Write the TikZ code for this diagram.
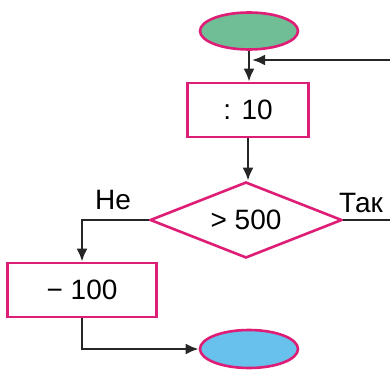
\documentclass[tikz,border=0pt]{standalone}
\usepackage{fontspec}
\setmainfont{Liberation Sans}
\usetikzlibrary{shapes.geometric,arrows.meta}
\definecolor{rim}{RGB}{222,30,118}
\definecolor{startfill}{RGB}{112,190,150}
\definecolor{stopfill}{RGB}{104,192,236}
\definecolor{wire}{RGB}{38,38,38}
\begin{document}
\begin{tikzpicture}[x=1pt, y=1pt, >={Latex[length=13pt,width=11pt]}]
	\tikzset{
		every node/.style={font=\fontsize{28}{32}\selectfont},
		oval/.style={ellipse, draw=rim, line width=2.6pt, minimum width=98pt, minimum height=37pt, inner sep=0pt},
		opbox/.style={rectangle, draw=rim, line width=2.6pt, minimum height=54pt, inner sep=0pt},
		testbox/.style={diamond, aspect=2.5, draw=rim, line width=2.6pt, minimum width=192pt, minimum height=76pt, inner sep=0pt},
		link/.style={draw=wire, line width=2.6pt}
	}
	\useasboundingbox (0,0) rectangle (390,370);
	% --- Khối bắt đầu và phép chia ---
	\node[oval, fill=startfill] (start) at (249,339) {};
	\node[opbox, minimum width=121pt] (div) at (248,260) {: 10};
	% --- Khối điều kiện ---
	\node[testbox] (cond) at (246,150) {> 500};
	\node (no) at (113,170) {Не};
	\node (yes) at (361,167) {Так};
	% --- Khối trừ và kết thúc ---
	\node[opbox, minimum width=149pt] (sub) at (82,80) {− 100};
	\node[oval, fill=stopfill, minimum height=38pt] (stop) at (249,21) {};
	\coordinate (back) at (392,310);
	% --- Các mũi tên ---
	\draw[link, ->] (start) -- (start |- div.north);
	\draw[link, ->] (back) -- ([xshift=3pt]start.south |- back);
	\draw[link, ->] (div) -- (div |- cond.north);
	\draw[link] (cond.east) -- (cond.east -| back);
	\draw[link, ->] (cond.west) -- (sub.north |- cond.west) -- (sub.north);
	\draw[link, ->] (sub.south) -- (sub.south |- stop.west) -- (stop.west);
\end{tikzpicture}
\end{document}
